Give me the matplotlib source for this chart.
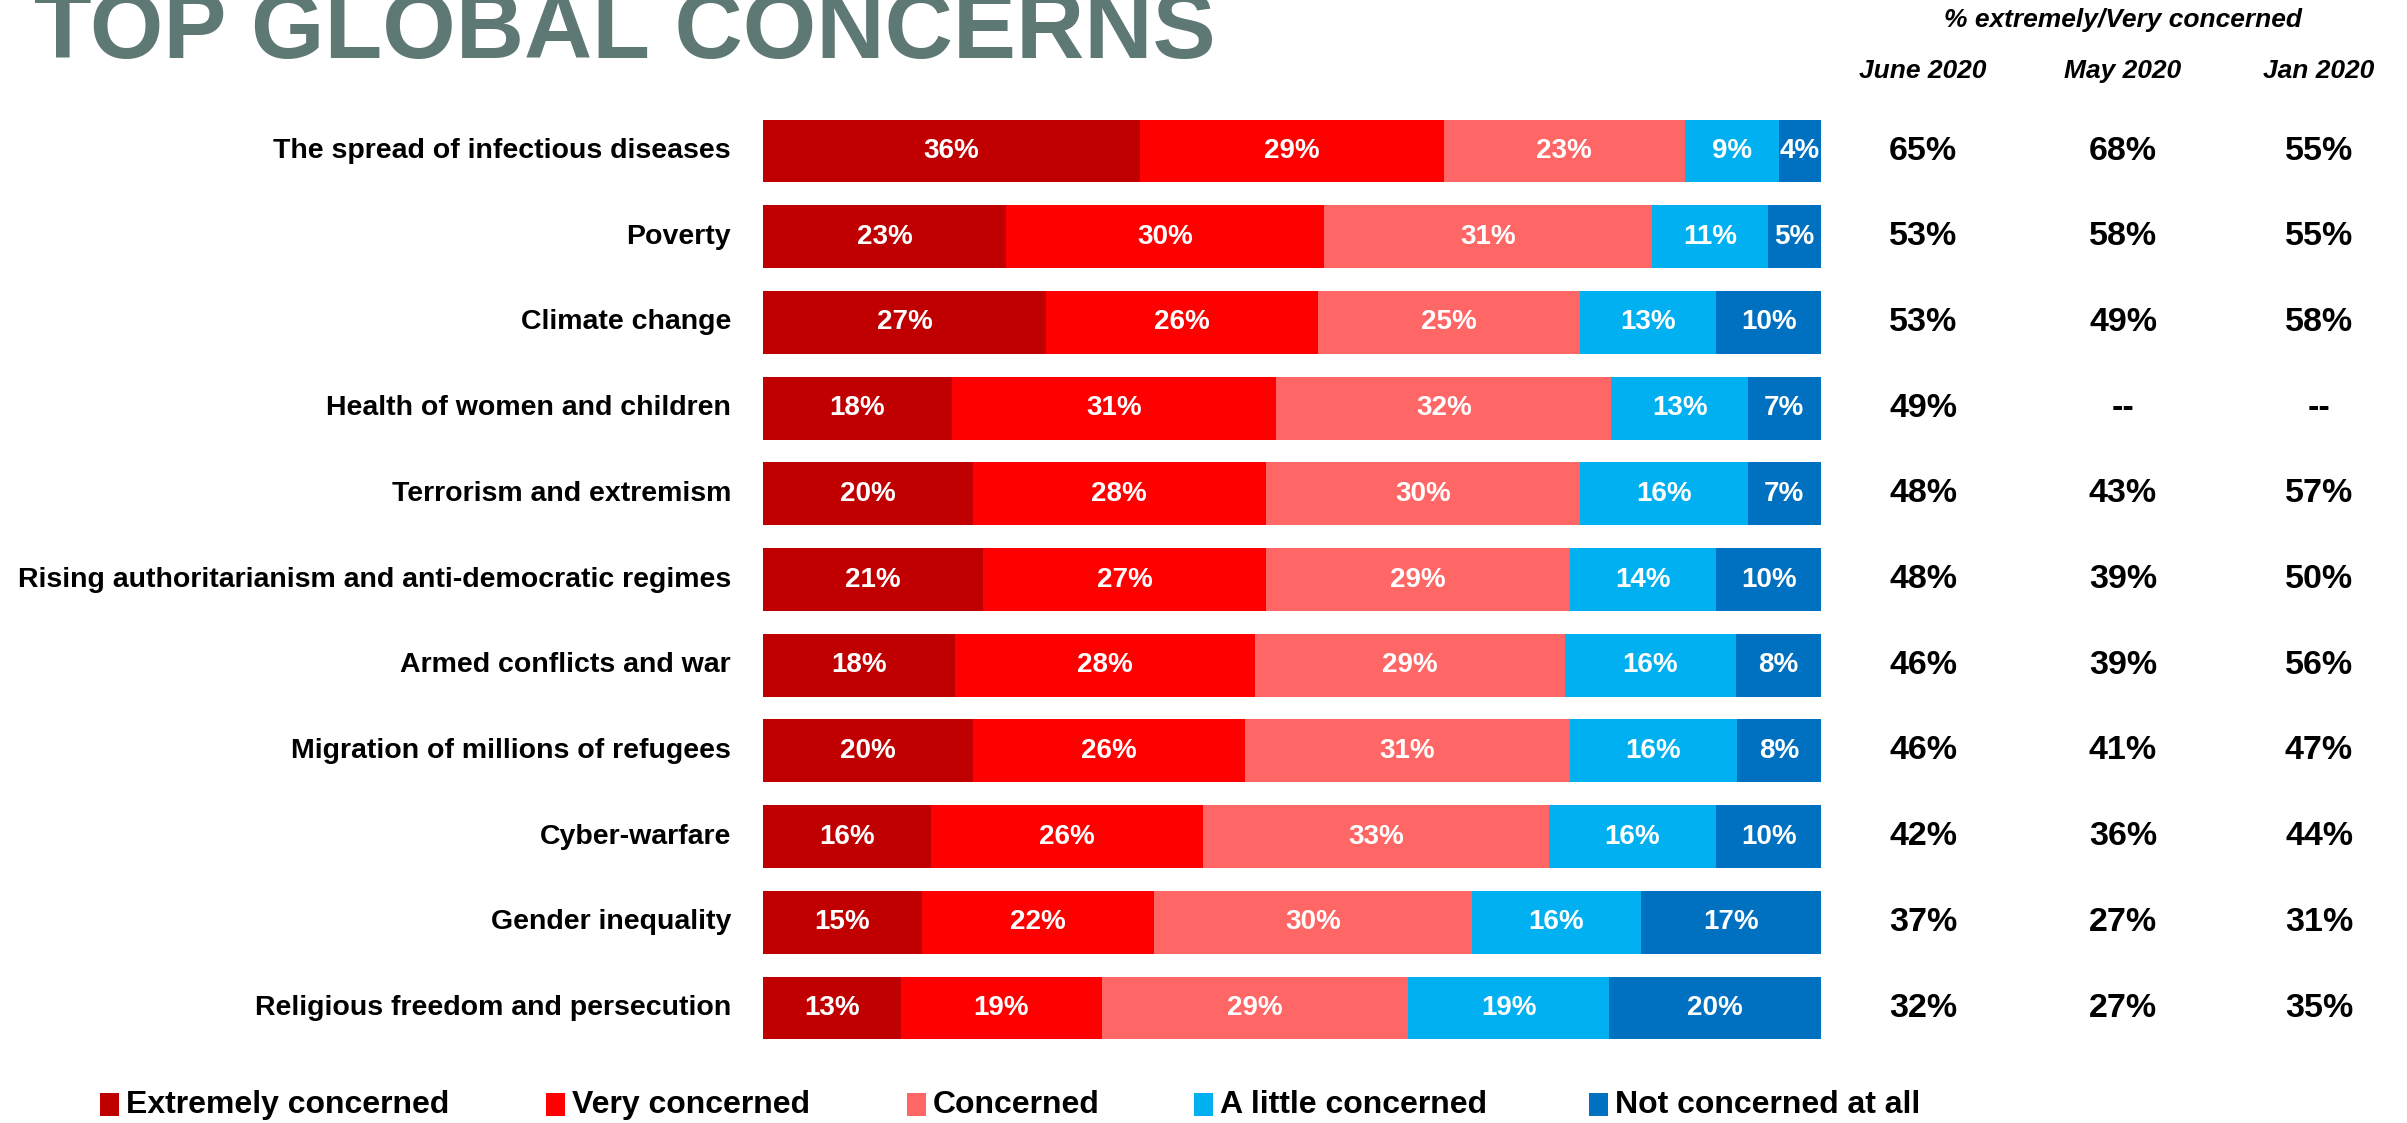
import numpy as np
import matplotlib
matplotlib.use("Agg")
from matplotlib import pyplot as plt
from matplotlib.patches import Rectangle
from matplotlib.transforms import blended_transform_factory

categories = [
    "The spread of infectious diseases",
    "Poverty",
    "Climate change",
    "Health of women and children",
    "Terrorism and extremism",
    "Rising authoritarianism and anti-democratic regimes",
    "Armed conflicts and war",
    "Migration of millions of refugees",
    "Cyber-warfare",
    "Gender inequality",
    "Religious freedom and persecution",
]
extremely = [36, 23, 27, 18, 20, 21, 18, 20, 16, 15, 13]
very = [29, 30, 26, 31, 28, 27, 28, 26, 26, 22, 19]
concerned = [23, 31, 25, 32, 30, 29, 29, 31, 33, 30, 29]
a_little = [9, 11, 13, 13, 16, 14, 16, 16, 16, 16, 19]
not_at_all = [4, 5, 10, 7, 7, 10, 8, 8, 10, 17, 20]

series_names = ["Extremely concerned", "Very concerned", "Concerned",
                "A little concerned", "Not concerned at all"]
colors = ["#C00000", "#FF0000", "#FF6666", "#00B0F0", "#0070C0"]

periods = ["June 2020", "May 2020", "Jan 2020"]
june_2020 = ["65%", "53%", "53%", "49%", "48%", "48%", "46%", "46%", "42%", "37%", "32%"]
may_2020 = ["68%", "58%", "49%", "--", "43%", "39%", "39%", "41%", "36%", "27%", "27%"]
jan_2020 = ["55%", "55%", "58%", "--", "57%", "50%", "56%", "47%", "44%", "31%", "35%"]

FONT = "Liberation Sans"
W, H = 2407, 1123
fig = plt.figure(figsize=(W / 100, H / 100), dpi=100)
fig.patch.set_facecolor("white")

# bar area in pixels
x0, x1 = 763, 1821
row0, step = 151, 85.7
ax = fig.add_axes([x0 / W, 0, (x1 - x0) / W, 1])
ax.set_xlim(0, 100)
ax.set_ylim((H - row0) / step, -row0 / step)
ax.axis("off")

# each row is stretched to the full width (rounded shares sum to 99-101)
data = np.array([extremely, very, concerned, a_little, not_at_all], dtype=float)
totals = data.sum(axis=0)
shares = data / totals * 100
y = np.arange(len(categories))
left = np.zeros(len(categories))
for k in range(len(series_names)):
    ax.barh(y, shares[k], left=left, height=0.735, color=colors[k], linewidth=0)
    for i in range(len(categories)):
        ax.text(left[i] + shares[k][i] / 2, y[i], f"{int(data[k][i])}%",
                ha="center", va="center", color="white", fontsize=20,
                fontweight="bold", family=FONT)
    left += shares[k]

# category labels and trend columns
tr = blended_transform_factory(fig.transFigure, ax.transData)
for i, name in enumerate(categories):
    fig.text(731 / W, y[i], name, transform=tr, ha="right", va="center",
             fontsize=20.5, fontweight="bold", family=FONT)

col_x = [1923, 2123, 2319]
for cx, col in zip(col_x, [june_2020, may_2020, jan_2020]):
    for i, v in enumerate(col):
        fig.text(cx / W, y[i], v, transform=tr, ha="center", va="center",
                 fontsize=24.5, fontweight="bold", family=FONT)

for cx, p in zip(col_x, periods):
    fig.text(cx / W, 1 - 71 / H, p, ha="center", va="center", fontsize=19,
             fontweight="bold", fontstyle="italic", family=FONT)
fig.text(2123 / W, 1 - 20 / H, "% extremely/Very concerned", ha="center",
         va="center", fontsize=19, fontweight="bold", fontstyle="italic",
         family=FONT)

# title, partly cut off at the top edge
fig.text(34 / W, 1 - 58 / H, "TOP GLOBAL CONCERNS", ha="left", va="baseline",
         fontsize=68, fontweight="bold", color="#5E7874", family=FONT)

# legend
leg_x = [100, 546, 907, 1194, 1589]
leg_y = 1105
for lx, name, c in zip(leg_x, series_names, colors):
    fig.patches.append(Rectangle((lx / W, 1 - (leg_y + 11) / H), 19 / W, 23 / H,
                                 transform=fig.transFigure, facecolor=c,
                                 edgecolor="none"))
    fig.text((lx + 26) / W, 1 - leg_y / H, name, ha="left", va="center",
             fontsize=23, fontweight="bold", family=FONT)

fig.savefig("out.png", dpi=100)
